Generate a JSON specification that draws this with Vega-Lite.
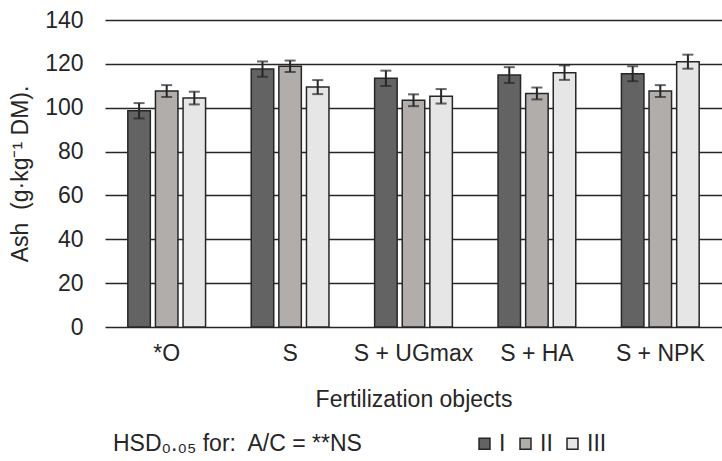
{
  "$schema": "https://vega.github.io/schema/vega-lite/v6.json",
  "width": 617,
  "height": 307,
  "autosize": {"type": "none"},
  "padding": {"left": 105, "top": 20, "right": 0, "bottom": 134},
  "background": "white",
  "config": {
    "view": {"stroke": null},
    "font": "Liberation Sans",
    "axis": {"labelFont": "Liberation Sans", "titleFont": "Liberation Sans", "labelColor": "#262626", "titleColor": "#262626", "titleFontWeight": "normal"}
  },
  "data": {
    "values": [
      {"obj": "*O", "series": "I", "value": 98.6, "lo": 95.1, "hi": 102.1},
      {"obj": "*O", "series": "II", "value": 107.6, "lo": 104.9, "hi": 110.3},
      {"obj": "*O", "series": "III", "value": 104.4, "lo": 101.5, "hi": 107.3},
      {"obj": "S", "series": "I", "value": 117.6, "lo": 114.1, "hi": 121.1},
      {"obj": "S", "series": "II", "value": 118.9, "lo": 116.3, "hi": 121.5},
      {"obj": "S", "series": "III", "value": 109.4, "lo": 106.2, "hi": 112.6},
      {"obj": "S + UGmax", "series": "I", "value": 113.4, "lo": 109.9, "hi": 116.9},
      {"obj": "S + UGmax", "series": "II", "value": 103.4, "lo": 100.7, "hi": 106.1},
      {"obj": "S + UGmax", "series": "III", "value": 105.2, "lo": 101.9, "hi": 108.5},
      {"obj": "S + HA", "series": "I", "value": 114.9, "lo": 111.3, "hi": 118.5},
      {"obj": "S + HA", "series": "II", "value": 106.5, "lo": 103.8, "hi": 109.2},
      {"obj": "S + HA", "series": "III", "value": 116.0, "lo": 112.7, "hi": 119.3},
      {"obj": "S + NPK", "series": "I", "value": 115.5, "lo": 112.1, "hi": 118.9},
      {"obj": "S + NPK", "series": "II", "value": 107.6, "lo": 104.9, "hi": 110.3},
      {"obj": "S + NPK", "series": "III", "value": 121.0, "lo": 117.8, "hi": 124.2}
    ]
  },
  "encoding": {
    "x": {
      "field": "obj",
      "type": "nominal",
      "sort": ["*O", "S", "S + UGmax", "S + HA", "S + NPK"],
      "scale": {"paddingInner": 0.37, "paddingOuter": 0.185},
      "axis": {
        "title": "Fertilization objects",
        "labelAngle": 0,
        "labelFontSize": 23,
        "titleFontSize": 23,
        "domain": false,
        "ticks": false,
        "labelPadding": 15,
        "titlePadding": 23
      }
    },
    "xOffset": {
      "field": "series",
      "type": "nominal",
      "sort": ["I", "II", "III"],
      "scale": {"paddingInner": 0.185, "paddingOuter": 0}
    }
  },
  "layer": [
    {
      "mark": {"type": "bar", "stroke": "#262626", "strokeWidth": 1.5},
      "encoding": {
        "y": {
          "field": "value",
          "type": "quantitative",
          "scale": {"domain": [0, 140], "nice": false},
          "axis": {
            "title": "Ash\u00a0 (g·kg⁻¹ DM).",
            "values": [0, 20, 40, 60, 80, 100, 120, 140],
            "labelFontSize": 23,
            "titleFontSize": 23,
            "domain": false,
            "ticks": false,
            "labelPadding": 22,
            "titlePadding": 12,
            "grid": true,
            "gridColor": "#262626",
            "gridWidth": 1.5,
            "gridOpacity": 1
          }
        },
        "color": {
          "field": "series",
          "type": "nominal",
          "sort": ["I", "II", "III"],
          "scale": {"domain": ["I", "II", "III"], "range": ["#636363", "#b1adaa", "#e6e6e6"]},
          "legend": {
            "orient": "none",
            "legendX": 8,
            "legendY": 412,
            "direction": "horizontal",
            "title": "HSD₀.₀₅ for:\u00a0 A/C = **NS",
            "titleOrient": "left",
            "titleFontSize": 23,
            "titleFontWeight": "normal",
            "titleFont": "Liberation Sans",
            "titleColor": "#262626",
            "titleBaseline": "middle",
            "titleLimit": 500,
            "titlePadding": 109,
            "symbolType": "square",
            "symbolSize": 120,
            "symbolStrokeColor": "#262626",
            "symbolStrokeWidth": 1.5,
            "symbolOpacity": 1,
            "labelFontSize": 23,
            "labelColor": "#262626",
            "labelFont": "Liberation Sans",
            "labelOffset": 3,
            "columnPadding": 8
          }
        }
      }
    },
    {
      "mark": {"type": "rule", "color": "#262626", "strokeWidth": 2},
      "encoding": {
        "y": {"field": "lo", "type": "quantitative"},
        "y2": {"field": "hi"}
      }
    },
    {
      "mark": {"type": "tick", "color": "#262626", "thickness": 2, "size": 11, "orient": "horizontal"},
      "encoding": {
        "y": {"field": "lo", "type": "quantitative"}
      }
    },
    {
      "mark": {"type": "tick", "color": "#262626", "thickness": 2, "size": 11, "orient": "horizontal"},
      "encoding": {
        "y": {"field": "hi", "type": "quantitative"}
      }
    }
  ]
}
